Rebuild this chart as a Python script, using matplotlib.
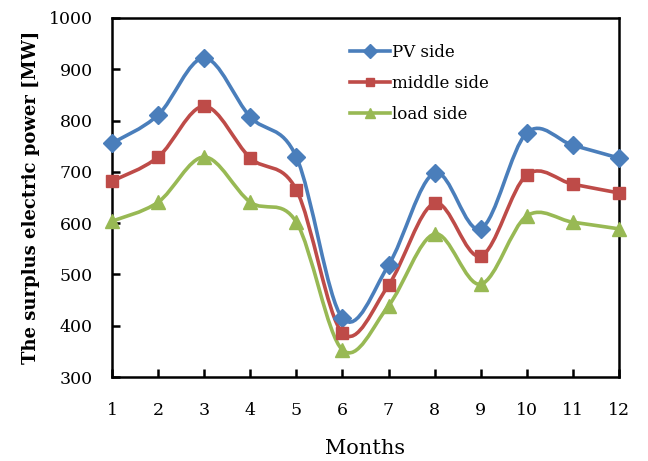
import numpy as np
import matplotlib
matplotlib.use("Agg")
import matplotlib.pyplot as plt
from matplotlib.path import Path
from matplotlib.patches import PathPatch
from matplotlib.lines import Line2D

plt.rcParams['font.family'] = ['DejaVu Serif']

months = list(range(1, 13))
pv_side = [756, 811, 922, 807, 729, 415, 518, 698, 589, 776, 752, 727]
middle_side = [682, 729, 828, 727, 665, 386, 479, 639, 536, 694, 676, 659]
load_side = [604, 641, 729, 641, 602, 353, 439, 579, 481, 614, 602, 589]

series = [
    ("PV side", pv_side, "#4A7EBB", "D", 9),
    ("middle side", middle_side, "#BE4B48", "s", 8),
    ("load side", load_side, "#98B954", "^", 10),
]


def smooth_path(x, y):
    # Excel-like smoothed line: cubic Bezier with Catmull-Rom control points
    x = np.asarray(x, float)
    y = np.asarray(y, float)
    verts = [(x[0], y[0])]
    codes = [Path.MOVETO]
    n = len(x)
    for i in range(n - 1):
        x0, y0 = (x[i - 1], y[i - 1]) if i > 0 else (x[i], y[i])
        x3, y3 = (x[i + 2], y[i + 2]) if i + 2 < n else (x[i + 1], y[i + 1])
        c1 = (x[i] + (x[i + 1] - x0) / 6, y[i] + (y[i + 1] - y0) / 6)
        c2 = (x[i + 1] - (x3 - x[i]) / 6, y[i + 1] - (y3 - y[i]) / 6)
        verts += [c1, c2, (x[i + 1], y[i + 1])]
        codes += [Path.CURVE4] * 3
    return Path(verts, codes)


fig = plt.figure(figsize=(6.48, 4.61), dpi=100)
ax = fig.add_axes([0.173, 0.182, 0.782, 0.779])

handles = []
for name, vals, color, marker, ms in series:
    patch = PathPatch(smooth_path(months, vals), facecolor="none",
                      edgecolor=color, lw=2.6, capstyle="round", zorder=2)
    ax.add_patch(patch)
    ax.plot(months, vals, linestyle="none", marker=marker, ms=ms,
            color=color, zorder=3, clip_on=False)
    handles.append(Line2D([], [], color=color, lw=2.6, marker=marker,
                          ms=ms * 0.75, label=name))

ax.set_xlim(1, 12)
ax.set_ylim(300, 1000)
ax.set_xticks(months)
ax.set_yticks(range(300, 1001, 100))

for side in ["top", "right", "bottom", "left"]:
    ax.spines[side].set_linewidth(1.8)

ax.tick_params(axis="both", direction="in", length=6, width=1.8,
               labelsize=12.5, top=False, right=False)
ax.tick_params(axis="x", pad=18)
ax.tick_params(axis="y", pad=14)

ax.set_xlabel("Months", fontsize=15, labelpad=14)
ax.set_ylabel("The surplus electric power [MW]", fontsize=13,
              fontweight="bold", labelpad=6)

leg = ax.legend(handles=handles, loc="upper left",
                bbox_to_anchor=(0.44, 0.97), frameon=False, fontsize=12,
                handlelength=2.4, handletextpad=0.1, labelspacing=0.85)

fig.savefig("out.png", dpi=100)
